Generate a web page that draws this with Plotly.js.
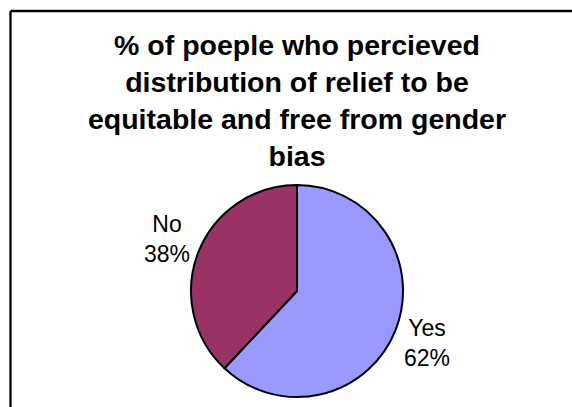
<!DOCTYPE html>
<html>
<head>
<meta charset="utf-8">
<script src="https://cdn.plot.ly/plotly-3.0.1.min.js"></script>
<style>html,body{margin:0;padding:0;background:#fff;}#chart{width:572px;height:407px;}</style>
</head>
<body>
<div id="chart"></div>
<script>
var labels = ['Yes', 'No'];
var values = [62, 38];
var sliceColors = ['#9999FF', '#993366'];
var titleText = '% of poeple who percieved<br>distribution of relief to be<br>equitable and free from gender<br>bias';

var W = 572, H = 407;
var cx = 297, cy = 291, r = 106;
var labelDist = 1.32;

var total = values.reduce(function (a, b) { return a + b; }, 0);
var annotations = [];
var cum = 0;
for (var i = 0; i < values.length; i++) {
  var mid = 2 * Math.PI * (cum + values[i] / 2) / total;
  cum += values[i];
  var px = cx + labelDist * r * Math.sin(mid);
  var py = cy - labelDist * r * Math.cos(mid);
  annotations.push({
    xref: 'paper', yref: 'paper',
    x: px / W, y: 1 - py / H,
    xanchor: 'center', yanchor: 'middle',
    showarrow: false,
    text: labels[i] + '<br>' + Math.round(100 * values[i] / total) + '%',
    font: {family: 'Arial, Liberation Sans, sans-serif', size: 23, color: '#000000'}
  });
}

var trace = {
  type: 'pie',
  labels: labels,
  values: values,
  sort: false,
  direction: 'clockwise',
  rotation: 0,
  marker: {colors: sliceColors, line: {color: '#000000', width: 2}},
  textinfo: 'none',
  hoverinfo: 'none',
  domain: {x: [(cx - r) / W, (cx + r) / W], y: [(H - cy - r) / H, (H - cy + r) / H]}
};

var layout = {
  width: W, height: H,
  margin: {l: 0, r: 0, t: 0, b: 0},
  paper_bgcolor: '#ffffff',
  showlegend: false,
  title: {
    text: '<b>' + titleText + '</b>',
    font: {family: 'Arial, Liberation Sans, sans-serif', size: 28.5, color: '#000000'},
    xref: 'container', x: 297 / W, xanchor: 'center',
    yref: 'container', y: 1 - 55 / H, yanchor: 'top'
  },
  annotations: annotations,
  shapes: [
    {type: 'line', xref: 'paper', yref: 'paper', x0: 10.5 / W, x1: 10.5 / W, y0: 0, y1: 1 - 11 / H, line: {color: '#000', width: 2.3}},
    {type: 'line', xref: 'paper', yref: 'paper', x0: 10.5 / W, x1: 1, y0: 1 - 11 / H, y1: 1 - 11 / H, line: {color: '#000', width: 2.3}}
  ]
};

Plotly.newPlot('chart', [trace], layout, {staticPlot: true, displayModeBar: false});
</script>
</body>
</html>
